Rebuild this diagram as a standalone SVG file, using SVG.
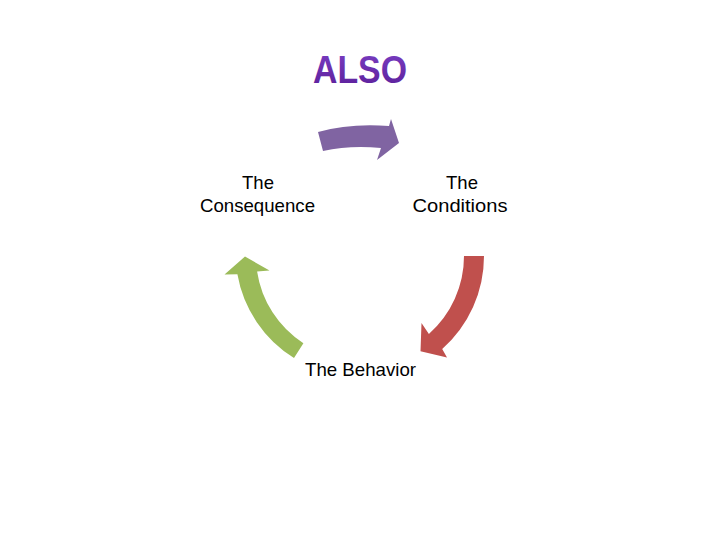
<svg xmlns="http://www.w3.org/2000/svg" width="720" height="540" viewBox="0 0 720 540">
  <defs>
    <linearGradient id="titleGrad" x1="0" y1="0" x2="0" y2="1">
      <stop offset="0" stop-color="#7b3fc4"/>
      <stop offset="1" stop-color="#5a1e98"/>
    </linearGradient>
    <style>
      .lbl { font-family: "Liberation Sans", Arial, sans-serif; font-size: 18.5px; fill: #000; text-anchor: middle; }
      .title { font-family: "Liberation Sans", Arial, sans-serif; font-size: 39px; font-weight: bold; fill: url(#titleGrad); }
    </style>
  </defs>
  <rect width="720" height="540" fill="#ffffff"/>

  <g id="title">
    <text class="title" x="313" y="83" textLength="94" lengthAdjust="spacingAndGlyphs">ALSO</text>
  </g>

  <g id="connectors">
    <path id="arrow-top" fill="#8064a2" d="M318,132 Q350,123 389,126 L391,119 L399,143 L377,160 L381,148 Q350,145 323,151 Z"/>
    <path id="arrow-right" fill="#c0504d" d="M464,256 L484,256 A124 124 0 0 1 442.2,348.9 L447,357.5 L420.5,351.3 L421.5,323 L428.9,333.9 A104 104 0 0 0 464,256 Z"/>
    <path id="arrow-left" fill="#9bbb59" d="M303.4,343.2 L294,358 A124 124 0 0 1 237.4,274.3 L224.5,274.5 L245,256.5 L269.5,270.5 L257.1,271.4 A104 104 0 0 0 303.4,343.2 Z"/>
  </g>

  <g id="node-conditions">
    <text class="lbl" x="462" y="189">The</text>
    <text class="lbl" x="460" y="212" textLength="95" lengthAdjust="spacingAndGlyphs">Conditions</text>
  </g>
  <g id="node-behavior">
    <text class="lbl" x="360.5" y="376" textLength="111" lengthAdjust="spacingAndGlyphs">The Behavior</text>
  </g>
  <g id="node-consequence">
    <text class="lbl" x="258" y="189">The</text>
    <text class="lbl" x="257.5" y="212" textLength="115" lengthAdjust="spacingAndGlyphs">Consequence</text>
  </g>
</svg>
